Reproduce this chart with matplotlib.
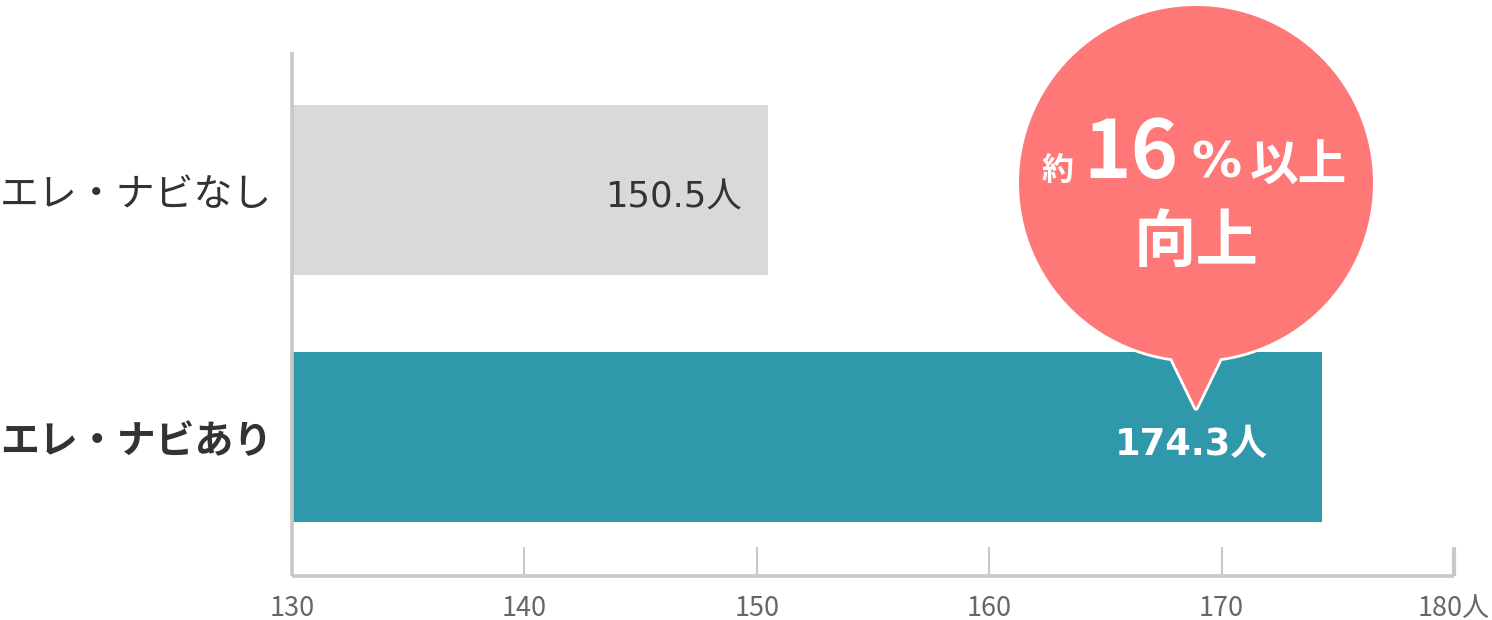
import matplotlib
matplotlib.use("Agg")
import matplotlib.pyplot as plt
from matplotlib.patches import Circle, Polygon

plt.rcParams['font.family'] = ['Noto Sans CJK JP', 'DejaVu Sans']

categories = ['エレ・ナビなし', 'エレ・ナビあり']
values = [150.5, 174.3]
value_labels = ['150.5人', '174.3人']
xticks = [130, 140, 150, 160, 170, 180]
xtick_labels = ['130', '140', '150', '160', '170', '180人']

W, H = 1492, 620
fig = plt.figure(figsize=(W / 100, H / 100), dpi=100)
ax = fig.add_axes([292 / W, 44 / H, (1454 - 292) / W, (576 - 52) / H])

bar_colors = ['#d9d9d9', '#3098ab']
ypos = [0, 1]
ax.barh(ypos, [v - 130 for v in values], left=130, height=0.69,
        color=bar_colors, zorder=2)
ax.set_xlim(130, 180)
ax.set_ylim(1.563, -0.559)

for sp in ['top', 'right']:
    ax.spines[sp].set_visible(False)
for sp in ['left', 'bottom']:
    ax.spines[sp].set_color('#c8c8c8')
    ax.spines[sp].set_linewidth(2.6)
    ax.spines[sp].set_capstyle('butt')

ax.set_yticks([])
ax.set_xticks(xticks)
ax.set_xticklabels(xtick_labels, fontsize=19.5, color='#666666')
ax.tick_params(axis='x', direction='in', length=21, width=1.5,
               color='#c8c8c8', pad=14)
ax.get_xticklines()[-2].set_markeredgewidth(3)

# category labels
fig.text(0, 1 - 195 / H, categories[0], fontsize=28, color='#333333',
         ha='left', va='center')
fig.text(0, 1 - 442 / H, categories[1], fontsize=28, color='#333333',
         ha='left', va='center', fontweight='bold')

# value labels
num_font = ['DejaVu Sans', 'Noto Sans CJK JP']
ax.text(values[0] - 1.15, 0.03, value_labels[0], fontsize=25.5, color='#333333',
        ha='right', va='center', family=num_font)
ax.text(values[1] - 2.3, 1.03, value_labels[1], fontsize=26.5, color='white',
        ha='right', va='center', fontweight='bold', family=num_font)

# callout bubble (pixel overlay)
ov = fig.add_axes([0, 0, 1, 1], zorder=5)
ov.set_xlim(0, W)
ov.set_ylim(H, 0)
ov.axis('off')
ov.patch.set_alpha(0)

cx, cy, r = 1196, 183, 177
tri = [(1158, 330), (1234, 330), (1196, 408)]
pink = '#ff7878'
ov.add_patch(Circle((cx, cy), r, facecolor=pink, edgecolor='white', lw=4))
ov.add_patch(Polygon(tri, closed=True, facecolor=pink, edgecolor='white',
                     lw=4, joinstyle='round'))
ov.add_patch(Circle((cx, cy), r, facecolor=pink, edgecolor='none'))
ov.add_patch(Polygon(tri, closed=True, facecolor=pink, edgecolor='none'))

ov.text(1058, 180, '約', fontsize=23, color='white', fontweight='bold',
        ha='center', va='baseline')
ov.text(1131, 178, '16', fontsize=58, color='white', fontweight='bold',
        ha='center', va='baseline')
ov.text(1216, 178, '%', fontsize=36, color='white', fontweight='bold',
        ha='center', va='baseline', family=['DejaVu Sans'])
ov.text(1298, 181, '以上', fontsize=35, color='white', fontweight='bold',
        ha='center', va='baseline')
ov.text(1196, 261, '向上', fontsize=45, color='white', fontweight='bold',
        ha='center', va='baseline')

fig.savefig('out.png', dpi=100)
